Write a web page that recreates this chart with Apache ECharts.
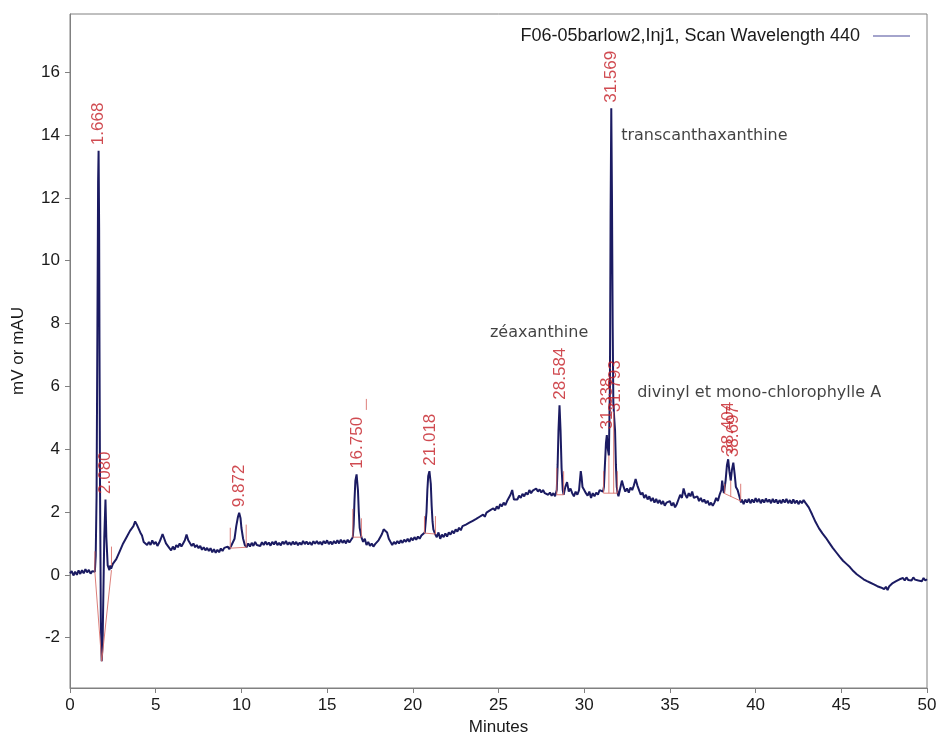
<!DOCTYPE html>
<html>
<head>
<meta charset="utf-8">
<script src="https://cdn.jsdelivr.net/npm/echarts@6/dist/echarts.min.js"></script>
<style>html,body{margin:0;padding:0;background:#fff;}#c{width:938px;height:735px;}</style>
</head>
<body>
<div id="c"></div>
<script>
// ---- data ----
const seriesName = 'F06-05barlow2,Inj1, Scan Wavelength 440';
const xTicks = [0, 5, 10, 15, 20, 25, 30, 35, 40, 45, 50];
const yTicks = [-2, 0, 2, 4, 6, 8, 10, 12, 14, 16];

// chromatogram trace [minutes, mV]
const trace = [
[0.0,0.05],[0.1,0.12],[0.2,-0.02],[0.3,0.10],[0.4,0.0],[0.5,0.14],[0.6,0.03],[0.7,0.15],[0.8,0.05],[0.9,0.18],[1.0,0.08],[1.1,0.16],[1.2,0.04],[1.3,0.12],[1.4,0.06],[1.45,0.1],
[1.5,0.6],[1.55,2.5],[1.6,8.0],[1.64,12.5],[1.668,13.5],[1.7,11.0],[1.72,7.3],[1.75,3.0],[1.8,-1.5],[1.85,-2.75],[1.9,-2.2],[1.95,-0.5],[2.0,1.2],[2.07,2.4],[2.12,1.2],[2.2,0.3],[2.3,0.15],[2.35,0.3],
[2.4,0.2],[2.5,0.35],[2.6,0.3],[2.7,0.5],[2.8,0.55],[2.9,0.75],[3.0,0.8],[3.1,1.0],[3.2,1.05],[3.3,1.2],[3.4,1.25],[3.5,1.4],[3.6,1.45],[3.7,1.55],[3.8,1.7],[3.9,1.6],[4.0,1.55],[4.1,1.35],[4.2,1.25],[4.3,1.05],[4.4,1.1],[4.5,0.95],[4.6,1.05],[4.7,0.95],[4.8,1.1],[4.9,0.98],[5.0,1.05],[5.1,0.92],[5.2,1.02],[5.3,1.15],[5.4,1.3],[5.5,1.15],[5.6,1.0],[5.7,0.95],[5.8,0.85],[5.9,0.78],[6.0,0.9],[6.1,0.8],[6.2,0.95],[6.3,0.88],[6.4,1.0],[6.5,0.9],[6.6,1.0],[6.7,1.1],[6.8,1.28],[6.9,1.1],[7.0,1.05],[7.1,0.92],[7.2,1.0],[7.3,0.88],[7.4,0.95],[7.5,0.85],[7.6,0.92],[7.7,0.8],[7.8,0.88],[7.9,0.78],[8.0,0.86],[8.1,0.76],[8.2,0.85],[8.3,0.72],[8.4,0.82],[8.5,0.7],[8.6,0.8],[8.7,0.72],[8.8,0.84],[8.9,0.76],[9.0,0.86],[9.1,0.8],[9.2,0.9],[9.3,0.82],[9.4,0.92],[9.5,0.9],
[9.6,1.15],[9.7,1.55],[9.8,1.85],[9.87,1.98],[9.95,1.8],[10.0,1.5],[10.1,1.15],[10.2,0.95],[10.3,0.88],[10.4,1.0],[10.5,0.9],[10.6,1.02],[10.7,0.92],[10.8,1.05],[10.9,0.95],
[11.0,1.0],[11.1,0.92],[11.2,1.04],[11.3,0.95],[11.4,1.06],[11.5,0.96],[11.6,1.03],[11.7,0.93],[11.8,1.05],[11.9,0.97],[12.0,1.07],[12.1,0.95],[12.2,1.02],[12.3,0.94],[12.4,1.06],[12.5,0.98],[12.6,1.08],[12.7,0.96],[12.8,1.04],[12.9,0.95],[13.0,1.06],[13.1,0.97],[13.2,1.05],[13.3,0.94],[13.4,1.03],[13.5,0.96],[13.6,1.08],[13.7,0.98],[13.8,1.06],[13.9,0.97],[14.0,1.04],[14.1,0.95],[14.2,1.07],[14.3,0.99],[14.4,1.08],[14.5,0.98],[14.6,1.05],[14.7,0.96],[14.8,1.08],[14.9,1.0],[15.0,1.1],[15.1,0.98],[15.2,1.06],[15.3,0.97],[15.4,1.08],[15.5,1.0],[15.6,1.1],[15.7,1.0],[15.8,1.12],[15.9,1.02],[16.0,1.1],[16.1,1.0],[16.2,1.12],[16.3,1.03],
[16.4,1.05],[16.5,1.2],[16.55,1.6],[16.6,2.4],[16.65,3.0],[16.72,3.2],[16.8,2.7],[16.85,2.0],[16.9,1.5],[17.0,1.2],[17.1,1.05],[17.2,1.15],[17.3,0.95],[17.4,1.05],[17.5,0.92],[17.6,1.0],[17.7,0.9],[17.8,0.98],[17.9,1.02],[18.0,1.1],[18.1,1.2],[18.2,1.3],[18.3,1.45],[18.4,1.5],[18.5,1.35],[18.6,1.15],[18.7,1.05],[18.8,0.95],[18.9,1.05],[19.0,0.98],[19.1,1.08],[19.2,1.0],[19.3,1.1],[19.4,1.02],[19.5,1.12],[19.6,1.05],[19.7,1.15],[19.8,1.05],[19.9,1.18],[20.0,1.1],[20.1,1.2],[20.2,1.12],[20.3,1.22],[20.4,1.15],[20.5,1.25],[20.6,1.2],[20.7,1.35],
[20.8,2.0],[20.85,2.7],[20.9,3.15],[20.97,3.3],[21.05,2.9],[21.1,2.2],[21.15,1.7],[21.2,1.45],[21.3,1.3],[21.4,1.2],[21.5,1.35],[21.6,1.15],[21.7,1.28],[21.8,1.2],[21.9,1.32],[22.0,1.22],[22.1,1.35],[22.2,1.28],[22.3,1.4],[22.4,1.32],[22.5,1.45],[22.6,1.38],[22.7,1.5],[22.8,1.42],[22.9,1.55],[23.0,1.5],[23.1,1.6],[23.2,1.55],[23.3,1.66],[23.4,1.6],[23.5,1.72],[23.6,1.66],[23.7,1.78],[23.8,1.72],[23.9,1.85],[24.0,1.8],[24.1,1.92],[24.2,1.85],[24.3,1.98],[24.4,1.92],[24.5,2.05],[24.6,2.0],[24.7,2.12],[24.8,2.05],[24.9,2.18],[25.0,2.1],[25.1,2.25],[25.2,2.18],[25.3,2.3],[25.4,2.22],[25.5,2.35],[25.6,2.3],[25.7,2.55],[25.8,2.7],[25.9,2.4],[26.0,2.45],[26.1,2.4],[26.2,2.52],[26.3,2.45],[26.4,2.58],[26.5,2.5],[26.6,2.62],[26.7,2.55],[26.8,2.7],[26.9,2.6],[27.0,2.68],[27.1,2.62],[27.2,2.75],[27.3,2.65],[27.4,2.72],[27.5,2.62],[27.6,2.7],[27.7,2.6],[27.8,2.65],[27.9,2.55],[28.0,2.62],[28.1,2.52],[28.2,2.6],[28.3,2.5],
[28.4,2.7],[28.45,3.5],[28.5,4.6],[28.56,5.4],[28.62,4.6],[28.68,3.4],[28.75,2.7],[28.8,2.55],[28.9,2.8],[29.0,2.95],[29.1,2.65],[29.2,2.75],[29.3,2.6],[29.4,2.5],[29.5,2.65],[29.6,2.55],[29.7,2.7],[29.8,3.3],[29.85,3.1],[29.9,2.8],[30.0,2.7],[30.1,2.6],[30.2,2.52],[30.3,2.65],[30.4,2.45],[30.5,2.6],[30.6,2.5],[30.7,2.62],[30.8,2.55],[30.9,2.7],[31.0,2.75],[31.1,2.65],
[31.15,2.8],[31.2,3.4],[31.27,4.2],[31.32,4.45],[31.38,4.0],[31.44,3.8],[31.5,6.0],[31.54,11.5],[31.58,14.85],[31.62,12.0],[31.66,8.0],[31.7,5.5],[31.75,5.0],[31.8,4.6],[31.85,3.5],[31.9,2.8],[31.95,2.6],
[32.0,2.5],[32.1,2.75],[32.2,3.0],[32.3,2.8],[32.4,2.65],[32.5,2.75],[32.6,2.62],[32.7,2.78],[32.8,2.7],[32.9,2.85],[33.0,3.05],[33.1,2.85],[33.2,2.7],[33.3,2.55],[33.4,2.62],[33.5,2.45],[33.6,2.55],[33.7,2.4],[33.8,2.5],[33.9,2.35],[34.0,2.45],[34.1,2.3],[34.2,2.42],[34.3,2.28],[34.4,2.38],[34.5,2.25],[34.6,2.35],[34.7,2.2],[34.8,2.3],[34.9,2.25],[35.0,2.35],[35.1,2.2],[35.2,2.3],[35.3,2.15],[35.4,2.25],[35.5,2.4],[35.6,2.55],[35.7,2.45],[35.8,2.75],[35.9,2.55],[36.0,2.45],[36.1,2.6],[36.2,2.5],[36.3,2.65],[36.4,2.45],[36.5,2.4],[36.6,2.5],[36.7,2.35],[36.8,2.45],[36.9,2.32],[37.0,2.4],[37.1,2.28],[37.2,2.36],[37.3,2.22],[37.4,2.3],[37.5,2.2],[37.6,2.3],[37.7,2.45],[37.8,2.35],[37.9,2.55],[38.0,2.7],[38.05,3.0],[38.1,2.75],[38.15,2.6],
[38.25,3.0],[38.33,3.5],[38.4,3.68],[38.47,3.3],[38.55,3.0],[38.62,3.35],[38.7,3.57],[38.78,3.2],[38.85,2.8],[38.95,2.7],[39.05,2.5],[39.15,2.3],[39.2,2.4],
[39.3,2.25],[39.4,2.4],[39.5,2.3],[39.6,2.42],[39.7,2.28],[39.8,2.4],[39.9,2.3],[40.0,2.44],[40.1,2.32],[40.2,2.42],[40.3,2.28],[40.4,2.4],[40.5,2.3],[40.6,2.43],[40.7,2.32],[40.8,2.4],[40.9,2.28],[41.0,2.42],[41.1,2.3],[41.2,2.4],[41.3,2.27],[41.4,2.38],[41.5,2.28],[41.6,2.4],[41.7,2.3],[41.8,2.42],[41.9,2.28],[42.0,2.38],[42.1,2.27],[42.2,2.4],[42.3,2.28],[42.4,2.37],[42.5,2.25],[42.6,2.36],[42.7,2.28],[42.8,2.38],[42.9,2.3],[43.0,2.32],
[43.1,2.15],[43.2,2.12],[43.3,1.92],[43.4,1.9],[43.5,1.68],[43.6,1.66],[43.7,1.48],[43.8,1.47],[43.9,1.32],[44.0,1.34],[44.1,1.18],[44.2,1.2],[44.3,1.02],[44.4,1.0],[44.5,0.86],[44.6,0.85],[44.7,0.72],[44.8,0.73],[44.9,0.58],[45.0,0.58],[45.1,0.45],[45.2,0.45],[45.3,0.35],[45.4,0.36],[45.5,0.25],[45.6,0.22],[45.7,0.12],[45.8,0.14],[45.9,0.02],[46.0,0.04],[46.1,-0.06],[46.2,-0.04],[46.3,-0.14],[46.4,-0.1],[46.5,-0.2],[46.6,-0.15],[46.7,-0.25],[46.8,-0.2],[46.9,-0.3],[47.0,-0.26],[47.1,-0.36],[47.2,-0.3],[47.3,-0.4],[47.4,-0.35],[47.5,-0.45],[47.6,-0.38],[47.7,-0.48],[47.8,-0.36],[47.9,-0.38],[48.0,-0.26],[48.1,-0.3],[48.2,-0.2],[48.3,-0.26],[48.4,-0.14],[48.5,-0.2],[48.6,-0.1],[48.7,-0.18],[48.8,-0.08],[48.9,-0.16],[49.0,-0.1],[49.1,-0.18],[49.2,-0.08],[49.3,-0.15],[49.4,-0.1],[49.5,-0.18],[49.6,-0.12],[49.7,-0.2],[49.8,-0.1],[49.9,-0.18],[50.0,-0.14]
];

// retention-time labels: [minutes, peak height, label]
const peakTimes   = [1.668, 2.080, 9.872, 16.750, 21.018, 28.584, 31.338, 31.569, 31.793, 38.404, 38.697];
const peakHeights = [13.5, 2.4, 1.98, 3.2, 3.3, 5.4, 4.45, 14.85, 5.0, 3.68, 3.57];
const peakLabels  = ['1.668', '2.080', '9.872', '16.750', '21.018', '28.584', '31.338', '31.569', '31.793', '38.404', '38.697'];

// integration baselines (polylines) [minutes, mV]
const integrationBaselines = [
  [[1.45, 0.1], [1.85, -2.75], [2.42, 0.15]],
  [[9.35, 0.85], [10.3, 0.88]],
  [[16.5, 1.2], [17.0, 1.2]],
  [[20.68, 1.33], [21.32, 1.3]],
  [[28.4, 2.55], [28.8, 2.55]],
  [[31.13, 2.6], [31.93, 2.6]],
  [[38.15, 2.6], [39.13, 2.35]]
];
// peak start/end markers (vertical) [minutes, from, to]
const peakMarkers = [
  [1.45, 0.1, 0.75], [2.42, 0.3, 0.9],
  [9.35, 0.85, 1.5], [10.28, 0.9, 1.6],
  [16.5, 1.2, 2.1], [17.0, 1.2, 1.8], [17.29, 5.25, 5.6],
  [20.68, 1.33, 1.87], [21.32, 1.3, 1.87],
  [28.4, 2.55, 3.4], [28.8, 2.55, 3.3],
  [31.13, 2.6, 3.3], [31.44, 2.6, 3.8], [31.72, 2.6, 5.2], [31.93, 2.6, 3.3],
  [38.2, 2.6, 2.9], [38.55, 2.48, 3.0], [39.13, 2.35, 2.9]
];

// compound annotations [minutes, mV, text]
const compoundNames = [
  [24.47, 7.7, 'zéaxanthine'],
  [32.13, 13.96, 'transcanthaxanthine'],
  [33.06, 5.79, 'divinyl et mono-chlorophylle A']
];

// ---- chart ----
const RED = '#c41e26';
const LINE_RED = '#d8706a';
const FONT = 'Liberation Sans, Arial, sans-serif';

const chart = echarts.init(document.getElementById('c'), null, {renderer: 'canvas'});

const baselineLines = integrationBaselines.map(pl => ({coords: pl}));
peakMarkers.forEach(m => baselineLines.push({coords: [[m[0], m[1]], [m[0], m[2]]]}));

chart.setOption({
  animation: false,
  backgroundColor: '#fff',
  grid: {left: 70, right: 11, top: 14, bottom: 47, show: true, borderColor: '#808080', borderWidth: 1,
         containLabel: false, outerBoundsMode: 'none'},
  legend: {
    show: true, right: 23, top: 22, align: 'right',
    icon: 'rect', itemWidth: 37, itemHeight: 1.2, itemGap: 10,
    textStyle: {color: '#1a1a1a', fontSize: 18, fontFamily: FONT, padding: [0, 8, 0, 0]},
    data: [{name: seriesName, itemStyle: {color: '#4a4a9a'}}]
  },
  xAxis: {
    type: 'value', min: 0, max: 50, interval: 5,
    name: 'Minutes', nameLocation: 'middle', nameGap: 31,
    nameTextStyle: {color: '#1a1a1a', fontSize: 17, fontFamily: FONT},
    axisLine: {show: true, onZero: false, lineStyle: {color: '#808080'}},
    axisTick: {show: true, length: 5, lineStyle: {color: '#808080'}},
    axisLabel: {color: '#1a1a1a', fontSize: 17, fontFamily: FONT, margin: 9},
    splitLine: {show: false}
  },
  yAxis: {
    type: 'value', min: -3.6, max: 17.85,
    name: 'mV or mAU', nameLocation: 'middle', nameGap: 43, nameRotate: 90,
    nameTextStyle: {color: '#1a1a1a', fontSize: 17, fontFamily: FONT},
    axisLine: {show: true, onZero: false, lineStyle: {color: '#808080'}},
    axisTick: {show: true, length: 5, customValues: yTicks, lineStyle: {color: '#808080'}},
    axisLabel: {color: '#1a1a1a', fontSize: 17, fontFamily: FONT, margin: 10, customValues: yTicks},
    splitLine: {show: false}
  },
  series: [
    {
      name: seriesName, type: 'line', data: trace, showSymbol: false, symbol: 'none',
      lineStyle: {color: '#1b1b62', width: 2}, itemStyle: {color: '#4a4a9a'},
      z: 3
    },
    {
      name: 'integration', type: 'lines', coordinateSystem: 'cartesian2d', polyline: true,
      data: baselineLines, silent: true,
      lineStyle: {color: LINE_RED, width: 1, opacity: 0.9},
      z: 4
    },
    {
      name: 'peaks', type: 'scatter', symbolSize: 1, silent: true,
      itemStyle: {color: 'rgba(0,0,0,0)'},
      data: peakTimes.map((t, i) => [t, peakHeights[i], peakLabels[i]]),
      label: {
        show: true, position: 'top', distance: 5, rotate: 90, align: 'left', verticalAlign: 'middle',
        color: RED, fontSize: 17, fontFamily: FONT,
        formatter: p => p.data[2]
      },
      z: 5
    },
    {
      name: 'compounds', type: 'scatter', symbolSize: 1, silent: true,
      itemStyle: {color: 'rgba(0,0,0,0)'},
      data: compoundNames,
      label: {
        show: true, position: 'right', distance: 0, align: 'left', verticalAlign: 'middle',
        color: '#111', fontSize: 16, fontFamily: 'DejaVu Sans, sans-serif',
        formatter: p => p.data[2]
      },
      z: 5
    }
  ]
});
</script>
</body>
</html>
